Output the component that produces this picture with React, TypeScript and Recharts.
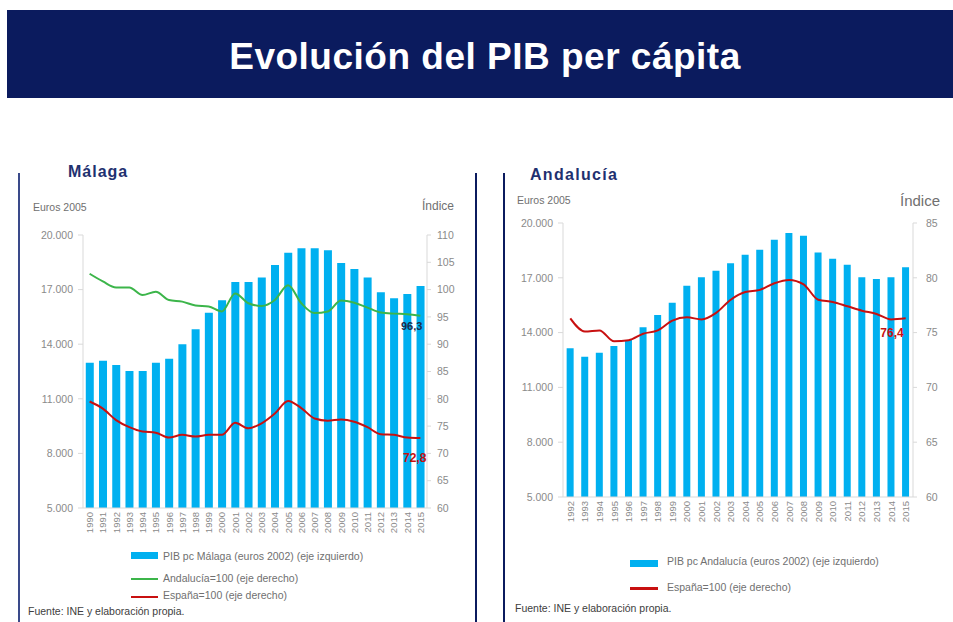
import React from "react";
import { ComposedChart, Bar, Line, XAxis, YAxis, LabelList } from "recharts";

// ---------- Data ----------
const maYears: string[] = ["1990","1991","1992","1993","1994","1995","1996","1997","1998","1999","2000","2001","2002","2003","2004","2005","2006","2007","2008","2009","2010","2011","2012","2013","2014","2015"];
const maGdp: number[] = [12980, 13090, 12860, 12530, 12530, 12980, 13200, 14000, 14820, 15730, 16410, 17420, 17420, 17670, 18350, 19030, 19270, 19270, 19160, 18460, 18130, 17670, 16850, 16520, 16760, 17200];
const maAndIdx: number[] = [102.9, 101.5, 100.4, 100.4, 99.0, 99.6, 98.1, 97.8, 97.1, 96.9, 96.0, 99.3, 97.5, 97.0, 98.1, 100.8, 97.5, 95.7, 96.0, 98.0, 97.6, 96.7, 95.8, 95.6, 95.5, 95.2];
const maEspIdx: number[] = [79.5, 78.2, 76.1, 74.8, 74.0, 73.8, 72.9, 73.4, 73.1, 73.4, 73.4, 75.6, 74.6, 75.5, 77.3, 79.6, 78.3, 76.4, 76.0, 76.2, 75.8, 74.8, 73.5, 73.4, 72.9, 72.8];
const maAndLabel = "96,3";
const maEspLabel = "72,8";

const anYears: string[] = ["1992","1993","1994","1995","1996","1997","1998","1999","2000","2001","2002","2003","2004","2005","2006","2007","2008","2009","2010","2011","2012","2013","2014","2015"];
const anGdp: number[] = [13140, 12680, 12900, 13270, 13600, 14290, 14970, 15640, 16560, 17030, 17380, 17800, 18260, 18530, 19080, 19450, 19300, 18390, 18040, 17710, 17030, 16930, 17030, 17580];
const anEspIdx: number[] = [76.3, 75.1, 75.2, 74.2, 74.3, 74.9, 75.2, 76.1, 76.4, 76.2, 76.8, 78.0, 78.7, 78.9, 79.5, 79.8, 79.4, 78.0, 77.8, 77.4, 77.0, 76.7, 76.2, 76.3];
const anEspLabel = "76,4";

const eurosTicks: number[] = [5000, 8000, 11000, 14000, 17000, 20000];
const maIdxTicks: number[] = [60, 65, 70, 75, 80, 85, 90, 95, 100, 105, 110];
const anIdxTicks: number[] = [60, 65, 70, 75, 80, 85];

const maData = maYears.map((year, i) => ({ year, gdp: maGdp[i], and: maAndIdx[i], esp: maEspIdx[i] }));
const anData = anYears.map((year, i) => ({ year, gdp: anGdp[i], esp: anEspIdx[i] }));

// ---------- Styles ----------
const FONT = "'Liberation Sans', Arial, sans-serif";
const NAVY = "#0b1b5e";
const BLUE = "#00b0f0";
const GREEN = "#3cb54a";
const RED = "#c81010";
const GREY = "#8a8a8a";

const fmtThousands = (v: number) => {
  const s = String(Math.round(v));
  return s.replace(/\B(?=(\d{3})+(?!\d))/g, ".");
};

const YearTick = (props: any) => {
  const { x, y, payload } = props;
  return (
    <text
      transform={`translate(${x},${y}) rotate(-90)`}
      textAnchor="end"
      dominantBaseline="central"
      fontSize={9.5}
      fill={GREY}
      fontFamily={FONT}
    >
      {payload.value}
    </text>
  );
};

const lastLabel = (count: number, text: string, color: string, dx: number, dy: number, size: number) => (props: any) => {
  const { x, y, index } = props;
  if (index !== count - 1) return null;
  return (
    <text x={x + dx} y={y + dy} textAnchor="end" dominantBaseline="central" fontSize={size} fontWeight="bold" fill={color} fontFamily={FONT}>
      {text}
    </text>
  );
};

const abs = (left: number, top: number, extra: React.CSSProperties = {}): React.CSSProperties => ({
  position: "absolute",
  left,
  top,
  ...extra,
});

const small: React.CSSProperties = { fontSize: 10.5, color: "#707070", fontFamily: FONT, whiteSpace: "nowrap", lineHeight: "12px" };
const tickStyle = { fontSize: 10.5, fill: GREY, fontFamily: FONT };

export default function App() {
  return (
    <div style={{ position: "absolute", left: 0, top: 0, width: 953, height: 622, background: "#fff", overflow: "hidden", fontFamily: FONT }}>
      {/* Banner */}
      <div style={abs(7, 10, { width: 946, height: 88, background: NAVY, display: "flex", alignItems: "center", justifyContent: "center" })}>
        <span style={{ color: "#fff", fontWeight: "bold", fontSize: 37, fontFamily: FONT, marginLeft: 10, marginTop: 6, letterSpacing: 0.5 }}>
          Evolución del PIB per cápita
        </span>
      </div>

      {/* Panel borders */}
      <div style={abs(18, 173, { width: 2, height: 449, background: "#3a4a8a" })} />
      <div style={abs(475, 173, { width: 2, height: 449, background: NAVY })} />
      <div style={abs(503, 173, { width: 2, height: 449, background: NAVY })} />

      {/* Left panel texts */}
      <div style={abs(68, 163, { fontSize: 16, fontWeight: "bold", color: "#1f3170", fontFamily: FONT, letterSpacing: 1 })}>Málaga</div>
      <div style={abs(33, 201, small)}>Euros 2005</div>
      <div style={abs(422, 200, { ...small, fontSize: 12 })}>Índice</div>

      {/* Left chart */}
      <div style={abs(20, 220)}>
        <ComposedChart width={457} height={330} data={maData} margin={{ top: 15, right: 10, bottom: 12, left: 0 }} barCategoryGap="21%">
          <XAxis dataKey="year" height={30} tick={<YearTick />} tickLine={false} tickSize={0} tickMargin={4} interval={0} axisLine={{ stroke: "#d9d9d9" }} />
          <YAxis yAxisId="l" width={63} domain={[5000, 20000]} ticks={eurosTicks} tickFormatter={fmtThousands} tick={tickStyle} tickSize={5} tickMargin={5} axisLine={{ stroke: "#d9d9d9" }} tickLine={{ stroke: "#d9d9d9" }} interval={0} />
          <YAxis yAxisId="r" orientation="right" width={40} domain={[60, 110]} ticks={maIdxTicks} tick={{ ...tickStyle, textAnchor: "start" }} tickSize={4} tickMargin={6} axisLine={{ stroke: "#d9d9d9" }} tickLine={{ stroke: "#d9d9d9" }} interval={0} />
          <Bar yAxisId="l" dataKey="gdp" fill={BLUE} isAnimationActive={false} />
          <Line yAxisId="r" type="monotone" dataKey="and" stroke={GREEN} strokeWidth={2} dot={false} isAnimationActive={false}>
            <LabelList dataKey="and" content={lastLabel(maData.length, maAndLabel, "#1c2a4a", 2, 10, 11)} />
          </Line>
          <Line yAxisId="r" type="monotone" dataKey="esp" stroke={RED} strokeWidth={2} dot={false} isAnimationActive={false}>
            <LabelList dataKey="esp" content={lastLabel(maData.length, maEspLabel, RED, 6, 20, 12)} />
          </Line>
        </ComposedChart>
      </div>

      {/* Left legend */}
      <div style={abs(131, 552, { width: 27, height: 7, background: BLUE })} />
      <div style={abs(163, 550, small)}>PIB pc Málaga (euros 2002) (eje izquierdo)</div>
      <div style={abs(131, 578, { width: 27, height: 2, background: GREEN })} />
      <div style={abs(163, 572, small)}>Andalucía=100 (eje derecho)</div>
      <div style={abs(131, 596, { width: 27, height: 2, background: RED })} />
      <div style={abs(163, 589, small)}>España=100 (eje derecho)</div>
      <div style={abs(28, 605, { ...small, color: "#404040" })}>Fuente: INE y elaboración propia.</div>

      {/* Right panel texts */}
      <div style={abs(530, 166, { fontSize: 16, fontWeight: "bold", color: "#1f3170", fontFamily: FONT, letterSpacing: 1.3 })}>Andalucía</div>
      <div style={abs(517, 194, small)}>Euros 2005</div>
      <div style={abs(900, 192, { ...small, fontSize: 15, lineHeight: "17px" })}>Índice</div>

      {/* Right chart */}
      <div style={abs(500, 200)}>
        <ComposedChart width={453} height={340} data={anData} margin={{ top: 23, right: 10, bottom: 13, left: 0 }} barCategoryGap="25%">
          <XAxis dataKey="year" height={30} tick={<YearTick />} tickLine={false} tickSize={0} tickMargin={4} interval={0} axisLine={{ stroke: "#d9d9d9" }} />
          <YAxis yAxisId="l" width={63} domain={[5000, 20000]} ticks={eurosTicks} tickFormatter={fmtThousands} tick={tickStyle} tickSize={5} tickMargin={5} axisLine={{ stroke: "#d9d9d9" }} tickLine={{ stroke: "#d9d9d9" }} interval={0} />
          <YAxis yAxisId="r" orientation="right" width={30} domain={[60, 85]} ticks={anIdxTicks} tick={{ ...tickStyle, textAnchor: "start" }} tickSize={4} tickMargin={9} axisLine={{ stroke: "#d9d9d9" }} tickLine={{ stroke: "#d9d9d9" }} interval={0} />
          <Bar yAxisId="l" dataKey="gdp" fill={BLUE} isAnimationActive={false} />
          <Line yAxisId="r" type="monotone" dataKey="esp" stroke={RED} strokeWidth={2} dot={false} isAnimationActive={false}>
            <LabelList dataKey="esp" content={lastLabel(anData.length, anEspLabel, RED, -2, 15, 12)} />
          </Line>
        </ComposedChart>
      </div>

      {/* Right legend */}
      <div style={abs(630, 560, { width: 28, height: 7, background: BLUE })} />
      <div style={abs(667, 555, small)}>PIB  pc Andalucía  (euros 2002) (eje izquierdo)</div>
      <div style={abs(630, 587, { width: 28, height: 3, background: RED })} />
      <div style={abs(667, 581, small)}>España=100 (eje derecho)</div>
      <div style={abs(515, 602, { ...small, color: "#404040" })}>Fuente: INE y elaboración propia.</div>
    </div>
  );
}
